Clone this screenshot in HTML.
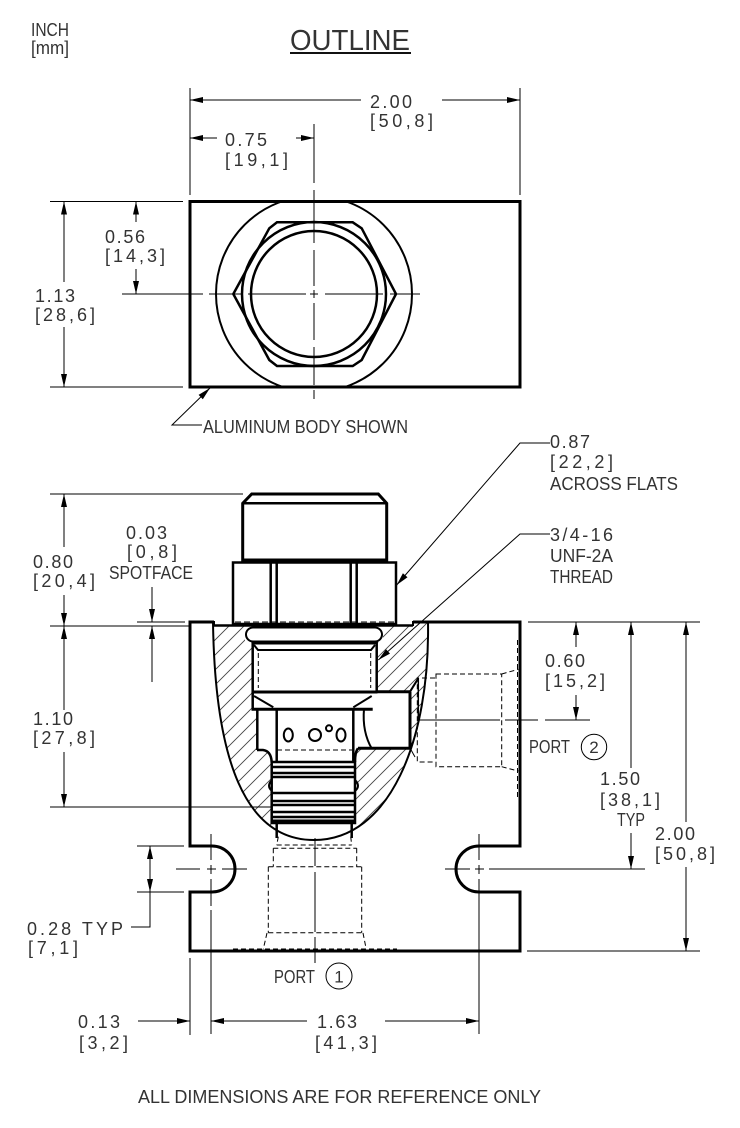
<!DOCTYPE html>
<html><head><meta charset="utf-8"><style>
html,body{margin:0;padding:0;background:#fff;}
svg{display:block;}
text{font-family:"Liberation Sans Narrow","Liberation Sans",sans-serif;font-size:18px;fill:#333;}
</style></head><body>
<svg width="740" height="1128" viewBox="0 0 740 1128" xmlns="http://www.w3.org/2000/svg">
<defs>
<pattern id="h" patternUnits="userSpaceOnUse" width="15" height="15">
<path d="M-1,1 l2,-2 M0,15 l15,-15 M14,16 l2,-2" stroke="#444" stroke-width="0.9"/>
</pattern>
<clipPath id="rc"><rect x="190" y="201.5" width="330" height="185.5"/></clipPath>
</defs>
<rect width="740" height="1128" fill="#fff"/>

<!-- header -->
<text x="31" y="36" textLength="38" lengthAdjust="spacingAndGlyphs">INCH</text>
<text x="31" y="54" textLength="38" lengthAdjust="spacingAndGlyphs">[mm]</text>
<text x="290" y="50" style="font-size:29px" textLength="120" lengthAdjust="spacingAndGlyphs">OUTLINE</text>
<rect x="290" y="52" width="121" height="2" fill="#111"/>

<g stroke="#000" stroke-width="1" fill="none">
<!-- top view ext/dim lines -->
<line x1="190" y1="88" x2="190" y2="195"/>
<line x1="520" y1="88" x2="520" y2="195"/>
<line x1="190" y1="100" x2="361" y2="100"/>
<line x1="442" y1="100" x2="520" y2="100"/>
<line x1="314" y1="124" x2="314" y2="183"/>
<line x1="190" y1="138" x2="217" y2="138"/>
<line x1="296" y1="138" x2="314" y2="138"/>
<line x1="50" y1="201.5" x2="183" y2="201.5"/>
<line x1="50" y1="387" x2="183" y2="387"/>
<line x1="64" y1="201" x2="64" y2="282"/>
<line x1="64" y1="327" x2="64" y2="387"/>
<line x1="136" y1="201" x2="136" y2="222"/>
<line x1="136" y1="269" x2="136" y2="294"/>
<!-- centerlines top -->
<path d="M122,294 H203 M209,294 H241 M248,294 H306 M310,294 H318 M325,294 H383 M390,294 H420"/>
<path d="M314,190 V243 M314,250 V286 M314,290 V298 M314,303 V340 M314,347 V385 M314,390 V399"/>
<!-- leader aluminum -->
<polyline points="202,425 172,425 210,388"/>
</g>

<!-- top view body -->
<g stroke="#000" fill="none">
<rect x="190" y="201.5" width="330" height="185.5" stroke-width="3"/>
<circle cx="314" cy="294" r="98" stroke-width="2" clip-path="url(#rc)"/>
<polygon points="277,222.3 352.7,222.3 361.7,228.3 396,294 361.7,360 352.7,366 277,366 269.3,360 233.3,294 269.3,228.3" stroke-width="2.5"/>
<circle cx="314" cy="294" r="72" stroke-width="2.5"/>
<circle cx="314" cy="294" r="63" stroke-width="2.5"/>
</g>

<!-- top arrows -->
<g fill="#000">
<polygon points="190,100 203,97 203,103"/>
<polygon points="520,100 507,97 507,103"/>
<polygon points="190,138 203,135 203,141"/>
<polygon points="314,138 301,135 301,141"/>
<polygon points="64,201.5 61,214.5 67,214.5"/>
<polygon points="64,387 61,374 67,374"/>
<polygon points="136,201.5 133,214.5 139,214.5"/>
<polygon points="136,294 133,281 139,281"/>
<polygon points="210,388 198.6,394.9 202.8,399.2"/>
</g>

<text x="370" y="108" textLength="42" lengthAdjust="spacing">2.00</text>
<text x="370" y="127" textLength="63" lengthAdjust="spacing">[50,8]</text>
<text x="225" y="146" textLength="42" lengthAdjust="spacing">0.75</text>
<text x="225" y="166" textLength="63" lengthAdjust="spacing">[19,1]</text>
<text x="105" y="243" textLength="40" lengthAdjust="spacing">0.56</text>
<text x="105" y="262" textLength="60" lengthAdjust="spacing">[14,3]</text>
<text x="35" y="302" textLength="40" lengthAdjust="spacing">1.13</text>
<text x="35" y="321" textLength="60" lengthAdjust="spacing">[28,6]</text>
<text x="203" y="433" textLength="205" lengthAdjust="spacingAndGlyphs">ALUMINUM BODY SHOWN</text>

<!-- ================= BOTTOM VIEW ================= -->
<!-- cavity hatch -->
<path d="M213,622 C215,760 245,840 314,840 C390,840 430,740 428,622 Z" fill="url(#h)" stroke="none"/>
<!-- white bore -->
<path d="M245,626 L383,626 L383,642 L377,642 L377,692 L410,692 L410,748 L358,748 Q355,752 355,762 L355,823 L351.7,823 L351.7,842 L276.7,842 L276.7,823 L271.7,823 L271.7,762 Q271,751 263,750 L257,750 L257,709 L252.7,709 L252.7,642 L245,642 Z" fill="#fff" stroke="none"/>
<rect x="214" y="622" width="199" height="4" fill="#fff"/>
<!-- cavity outline -->
<path d="M213,622 C215,760 245,840 314,840 C390,840 430,740 428,622" fill="none" stroke="#000" stroke-width="2"/>

<!-- body outline -->
<path d="M214,622 L190,622 L190,846 L212,846 A23,23 0 0 1 212,892 L190,892 L190,951 L520,951 L520,892 L479,892 A23,23 0 0 1 479,846 L520,846 L520,622 L413,622" fill="none" stroke="#000" stroke-width="3"/>
<g stroke="#000" fill="none">
<line x1="214" y1="625.5" x2="413" y2="625.5" stroke-width="2.5"/>
<line x1="214" y1="621" x2="214" y2="626" stroke-width="2"/>
<line x1="413" y1="621" x2="413" y2="626" stroke-width="2"/>
</g>

<!-- cartridge -->
<g stroke="#000" fill="#fff">
<polygon points="251.7,494 378.3,494 386.7,503.3 386.7,560 242.7,560 242.7,503.3" stroke-width="3"/>
<rect x="233" y="562.5" width="163" height="61.5" stroke-width="2.5"/>
</g>
<g stroke="#000" fill="none">
<line x1="242.7" y1="503.3" x2="386.7" y2="503.3" stroke-width="2.5"/>
<path d="M270.7,562 V624 M276.7,562 V624 M350.7,562 V624 M356.7,562 V624" stroke-width="2.5"/>
<path d="M235,622 H395" stroke-width="1" stroke-dasharray="6 3"/>
<rect x="246" y="627.5" width="136" height="14" rx="7" stroke-width="2"/>
<line x1="252" y1="642.5" x2="377" y2="642.5" stroke-width="4"/>
<rect x="252.7" y="642" width="124" height="50" stroke-width="2.5"/>
<polyline points="254,645 258,650 371,650 375,645" stroke-width="2"/>
<path d="M258.3,653 V688 M370.7,653 V688" stroke-width="1" stroke-dasharray="5 3"/>
<line x1="252" y1="692" x2="377" y2="692" stroke-width="3"/>
<line x1="254" y1="696" x2="273.3" y2="707.3" stroke-width="2"/>
<line x1="371.7" y1="696" x2="353.3" y2="707.3" stroke-width="2"/>
<line x1="252.7" y1="692" x2="252.7" y2="709.3" stroke-width="2.5"/>
<line x1="251.5" y1="709.3" x2="372.7" y2="709.3" stroke-width="3"/>
<line x1="257.3" y1="709" x2="257.3" y2="750" stroke-width="2.5"/>
<line x1="276.7" y1="709" x2="276.7" y2="762" stroke-width="2.5"/>
<line x1="353.3" y1="709" x2="353.3" y2="762" stroke-width="2.5"/>
<path d="M257,750 L263,750 Q271,751 271.7,762" stroke-width="2.5"/>
<!-- passage -->
<line x1="376.7" y1="691.7" x2="410" y2="691.7" stroke-width="3"/>
<line x1="410" y1="691.7" x2="410" y2="748.3" stroke-width="3"/>
<line x1="358" y1="748.3" x2="410" y2="748.3" stroke-width="3"/>
<path d="M358,748.3 Q355,752 355,762" stroke-width="2.5"/>
<path d="M364,709 Q362,732 372,749" stroke-width="2"/>
<line x1="410" y1="691.7" x2="418.3" y2="678.3" stroke-width="2"/>
<line x1="418.3" y1="678.3" x2="418.3" y2="720" stroke-width="1.5"/>
<line x1="410" y1="748" x2="415" y2="757" stroke-width="1"/>
<!-- holes -->
<ellipse cx="288.3" cy="735" rx="4.5" ry="6.5" stroke-width="2"/>
<circle cx="315" cy="735" r="6" stroke-width="2"/>
<circle cx="329" cy="728.3" r="3" stroke-width="2"/>
<ellipse cx="341" cy="735" rx="4.5" ry="6.5" stroke-width="2"/>
<path d="M277,750 H352" stroke-width="1" stroke-dasharray="5 3"/>
<!-- lower section -->
<rect x="271.7" y="762" width="83.3" height="61" stroke-width="2.5"/>
<path d="M272,767 H355 M272,773 H355 M272,777 H355 M272,793 H355 M272,801 H355 M272,805 H355 M272,812 H355 M272,817 H355" stroke-width="2.5"/>
<path d="M272,780 Q266,786 272,791 M355,780 Q361,786 355,791" stroke-width="2"/>
<line x1="272" y1="821" x2="355" y2="821" stroke-width="3"/>
<path d="M276.7,823 V838 M351.7,823 V838" stroke-width="2.5"/>
</g>

<!-- hidden lines -->
<g stroke="#000" stroke-width="1" fill="none" stroke-dasharray="5 3">
<path d="M278.3,836.7 L276.7,845 M350.7,836.7 L351.7,845"/>
<path d="M276.7,845 H351.7"/>
<path d="M273.3,848.3 H356.7 M273.3,848.3 V866.7 M356.7,848.3 V866.7"/>
<path d="M268.3,866.7 H361.7 M268.3,866.7 V932.7 M361.7,866.7 V932.7 M268.3,932.7 H361.7"/>
<path d="M267,933 L263.3,949 M363,933 L366,948"/>
<path d="M233,949 H397"/>
<rect x="436" y="674" width="65.7" height="92.7"/>
<polyline points="435,678 417.3,678 417.3,762 435,762"/>
<path d="M501.7,674 L518.3,669.3 M501.7,766.7 L518.3,771"/>
<path d="M517.5,640 V800"/>
</g>

<!-- centerlines / ext / dim lines bottom -->
<g stroke="#000" stroke-width="1" fill="none">
<path d="M417,720 H500 M505,720 H538 M545,720 H590"/>
<path d="M315,838 V866 M315,872 V932 M315,937 V963"/>
<path d="M176,869 H200 M207,869 H216 M222,869 H247"/>
<path d="M211,834 V860 M211,865 V874 M211,879 V906 M211,910 V1034"/>
<path d="M445,869 H470 M475,869 H484 M489,869 H645"/>
<path d="M479,834 V860 M479,865 V874 M479,879 V1034"/>
<line x1="50" y1="494" x2="243" y2="494"/>
<line x1="50" y1="626" x2="190" y2="626"/>
<line x1="50" y1="807" x2="272" y2="807"/>
<line x1="64" y1="494" x2="64" y2="547"/>
<line x1="64" y1="595" x2="64" y2="626"/>
<line x1="64" y1="626" x2="64" y2="710"/>
<line x1="64" y1="752" x2="64" y2="807"/>
<line x1="137" y1="622" x2="185" y2="622"/>
<line x1="152" y1="587" x2="152" y2="622"/>
<line x1="152" y1="626" x2="152" y2="682"/>
<line x1="137" y1="846" x2="184" y2="846"/>
<line x1="137" y1="892" x2="184" y2="892"/>
<polyline points="150,846 150,927 131,927"/>
<line x1="190" y1="958" x2="190" y2="1035"/>
<line x1="138" y1="1021" x2="190" y2="1021"/>
<line x1="211" y1="1021" x2="307" y2="1021"/>
<line x1="385" y1="1021" x2="479" y2="1021"/>
<line x1="528" y1="622" x2="700" y2="622"/>
<line x1="527" y1="951" x2="700" y2="951"/>
<line x1="576" y1="622" x2="576" y2="647"/>
<line x1="576" y1="695" x2="576" y2="720"/>
<line x1="631" y1="622" x2="631" y2="768"/>
<line x1="631" y1="833" x2="631" y2="869"/>
<line x1="686" y1="622" x2="686" y2="822"/>
<line x1="686" y1="867" x2="686" y2="951"/>
<polyline points="550,443 520,443 396.7,585"/>
<polyline points="550,534 520,534 378.3,660"/>
<circle cx="339" cy="976" r="13"/>
<circle cx="594" cy="747" r="12.7"/>
</g>

<!-- bottom arrows -->
<g fill="#000">
<polygon points="64,494 61,507 67,507"/>
<polygon points="64,626 61,613 67,613"/>
<polygon points="64,626 61,639 67,639"/>
<polygon points="64,807 61,794 67,794"/>
<polygon points="152,622 149,609 155,609"/>
<polygon points="152,626 149,639 155,639"/>
<polygon points="150,846 147,859 153,859"/>
<polygon points="150,892 147,879 153,879"/>
<polygon points="190,1021 177,1018 177,1024"/>
<polygon points="211,1021 224,1018 224,1024"/>
<polygon points="479,1021 466,1018 466,1024"/>
<polygon points="576,622 573,635 579,635"/>
<polygon points="576,720 573,707 579,707"/>
<polygon points="631,622 628,635 634,635"/>
<polygon points="631,869 628,856 634,856"/>
<polygon points="686,622 683,635 689,635"/>
<polygon points="686,951 683,938 689,938"/>
<polygon points="396.7,585 402.9,573.2 407.5,577.2"/>
<polygon points="378.3,660 386,649.2 390,653.6"/>
</g>

<!-- bottom texts -->
<text x="550" y="448" textLength="40" lengthAdjust="spacing">0.87</text>
<text x="550" y="468" textLength="63" lengthAdjust="spacing">[22,2]</text>
<text x="550" y="490" textLength="128" lengthAdjust="spacingAndGlyphs">ACROSS FLATS</text>
<text x="550" y="541" textLength="63" lengthAdjust="spacing">3/4-16</text>
<text x="550" y="562" textLength="63" lengthAdjust="spacingAndGlyphs">UNF-2A</text>
<text x="550" y="583" textLength="63" lengthAdjust="spacingAndGlyphs">THREAD</text>
<text x="126" y="539" textLength="41" lengthAdjust="spacing">0.03</text>
<text x="127" y="558" textLength="50" lengthAdjust="spacing">[0,8]</text>
<text x="109" y="579" textLength="84" lengthAdjust="spacingAndGlyphs">SPOTFACE</text>
<text x="33" y="568" textLength="40" lengthAdjust="spacing">0.80</text>
<text x="33" y="587" textLength="62" lengthAdjust="spacing">[20,4]</text>
<text x="33" y="725" textLength="40" lengthAdjust="spacing">1.10</text>
<text x="33" y="744" textLength="62" lengthAdjust="spacing">[27,8]</text>
<text x="545" y="667" textLength="40" lengthAdjust="spacing">0.60</text>
<text x="545" y="687" textLength="60" lengthAdjust="spacing">[15,2]</text>
<text x="529" y="753" textLength="41" lengthAdjust="spacingAndGlyphs">PORT</text>
<text x="594" y="753" text-anchor="middle" style="font-size:17px">2</text>
<text x="600" y="785" textLength="40" lengthAdjust="spacing">1.50</text>
<text x="600" y="806" textLength="60" lengthAdjust="spacing">[38,1]</text>
<text x="617" y="826" textLength="28" lengthAdjust="spacingAndGlyphs">TYP</text>
<text x="655" y="840" textLength="40" lengthAdjust="spacing">2.00</text>
<text x="655" y="860" textLength="60" lengthAdjust="spacing">[50,8]</text>
<text x="27" y="935" textLength="96" lengthAdjust="spacing">0.28  TYP</text>
<text x="28" y="954" textLength="50" lengthAdjust="spacing">[7,1]</text>
<text x="274" y="983" textLength="41" lengthAdjust="spacingAndGlyphs">PORT</text>
<text x="339" y="982.5" text-anchor="middle" style="font-size:17px">1</text>
<text x="78" y="1028" textLength="42" lengthAdjust="spacing">0.13</text>
<text x="79" y="1049" textLength="49" lengthAdjust="spacing">[3,2]</text>
<text x="317" y="1028" textLength="40" lengthAdjust="spacing">1.63</text>
<text x="315" y="1049" textLength="62" lengthAdjust="spacing">[41,3]</text>
<text x="138" y="1103" textLength="403" lengthAdjust="spacingAndGlyphs">ALL DIMENSIONS ARE FOR REFERENCE ONLY</text>
</svg>
</body></html>
